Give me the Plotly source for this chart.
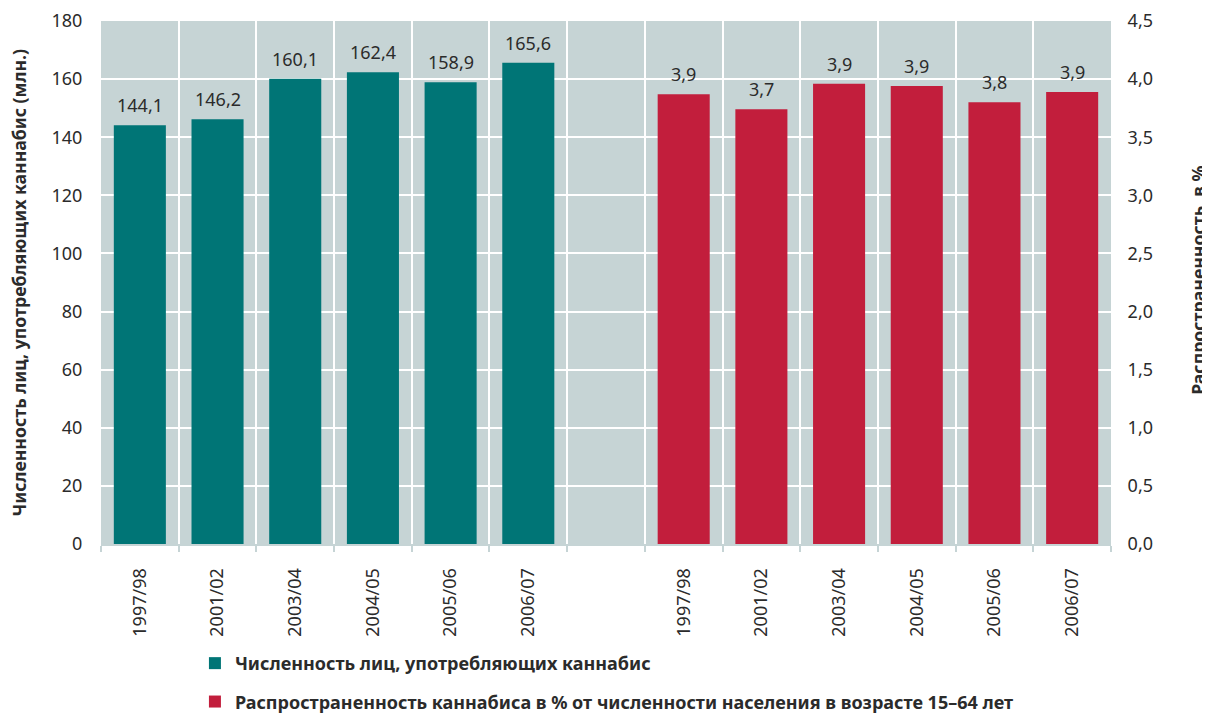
import plotly.graph_objects as go

years = ["1997/98", "2001/02", "2003/04", "2004/05", "2005/06", "2006/07"]
users_mln = [144.1, 146.2, 160.1, 162.4, 158.9, 165.6]
prevalence_pct = [3.87, 3.74, 3.96, 3.94, 3.80, 3.89]
users_labels = ["144,1", "146,2", "160,1", "162,4", "158,9", "165,6"]
prev_labels = ["3,9", "3,7", "3,9", "3,9", "3,8", "3,9"]

left_title = "Численность лиц, употребляющих каннабис (млн.)"
right_title = "Распространенность  в %"
name_users = "Численность лиц, употребляющих каннабис"
name_prev = "Распространенность каннабиса в % от численности населения в возрасте 15–64 лет"

teal = "#007576"
red = "#c21e3c"
bg = "#c6d4d5"
txt = "#2b2b2b"
FONT = "Noto Sans"

x_users = list(range(len(years)))
x_prev = [i + len(years) + 1 for i in range(len(years))]
n_slots = len(years) * 2 + 1

fig = go.Figure()
fig.add_trace(go.Bar(
    x=x_users, y=users_mln, name=name_users, marker=dict(color=teal, line=dict(width=0)),
    yaxis="y", legendgroup="a",
))
fig.add_trace(go.Bar(
    x=x_prev, y=prevalence_pct, name=name_prev, marker=dict(color=red, line=dict(width=0)),
    yaxis="y2", legendgroup="b",
))

for xv, yv, lab in zip(x_users, users_mln, users_labels):
    fig.add_annotation(x=xv, y=yv, xref="x", yref="y", text=lab, showarrow=False,
                       yanchor="bottom", yshift=6, font=dict(size=18, color=txt, family=FONT))
for xv, yv, lab in zip(x_prev, prevalence_pct, prev_labels):
    fig.add_annotation(x=xv, y=yv, xref="x", yref="y2", text=lab, showarrow=False,
                       yanchor="bottom", yshift=6, font=dict(size=18, color=txt, family=FONT))

fig.add_annotation(x=-0.0812, y=0.5, xref="paper", yref="paper", text=left_title,
                   textangle=-90, showarrow=False, xanchor="center", yanchor="middle",
                   font=dict(size=17.7, color=txt, family=FONT, weight="bold"))
fig.add_annotation(x=1.086, y=0.505, xref="paper", yref="paper", text=right_title,
                   textangle=-90, showarrow=False, xanchor="center", yanchor="middle",
                   font=dict(size=17.7, color=txt, family=FONT, weight="bold"))

fig.update_layout(
    width=1210, height=713,
    margin=dict(l=93, r=107, t=13, b=177, autoexpand=False),
    paper_bgcolor="white", plot_bgcolor=bg,
    separators=", ",
    font=dict(family=FONT, size=18, color=txt),
    bargap=0.33,
    showlegend=True,
    legend=dict(x=0.093, y=-0.193, xanchor="left", yanchor="top", orientation="v",
                font=dict(size=18, color=txt, family=FONT, weight="bold"),
                tracegroupgap=12, itemwidth=30, bgcolor="rgba(0,0,0,0)"),
    xaxis=dict(
        range=[-0.5, n_slots - 0.5], automargin=False,
        tickmode="array", tickvals=x_users + x_prev, ticktext=years + years,
        tickangle=-90, ticks="", showgrid=False, zeroline=False,
        showline=True, linecolor=bg, linewidth=2,
        ticklabelstandoff=15,
        tickfont=dict(size=18, color=txt),
        minor=dict(tickmode="array", tickvals=[i - 0.5 for i in range(n_slots + 1)],
                   showgrid=True, gridcolor="white", gridwidth=2,
                   ticks="outside", ticklen=6, tickcolor=bg, tickwidth=2),
    ),
    yaxis=dict(
        range=[0, 180], dtick=20, tickformat="d", automargin=False,
        showgrid=True, gridcolor="white", gridwidth=2, zeroline=False,
        ticks="outside", ticklen=14, tickcolor="rgba(0,0,0,0)",
        tickfont=dict(size=18, color=txt),
    ),
    yaxis2=dict(
        range=[0, 4.5], dtick=0.5, tickformat=".1f", overlaying="y", side="right",
        showgrid=False, zeroline=False, automargin=False,
        ticks="outside", ticklen=12, tickcolor="rgba(0,0,0,0)",
        tickfont=dict(size=18, color=txt),
    ),
)

fig.write_html("out.html")
